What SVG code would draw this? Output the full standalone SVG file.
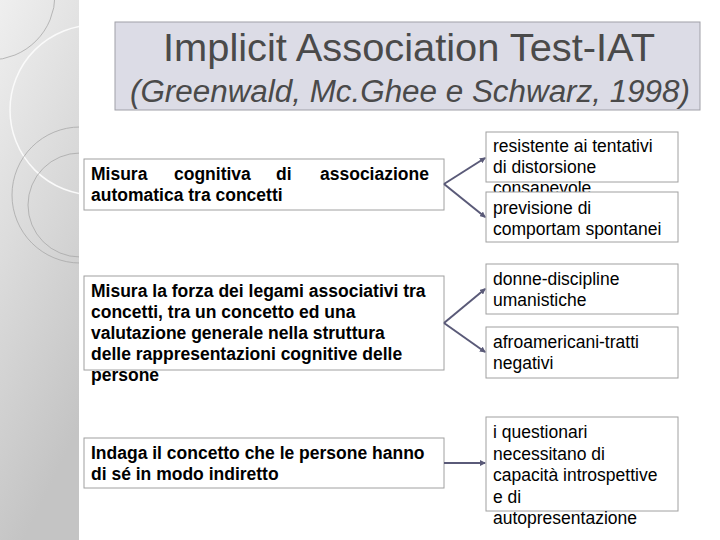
<svg xmlns="http://www.w3.org/2000/svg" width="720" height="540" viewBox="0 0 720 540">
<defs>
<linearGradient id="strip" x1="0" y1="0" x2="0.3" y2="1"><stop offset="0" stop-color="#efefef"/><stop offset="1" stop-color="#c4c4c4"/></linearGradient>
<clipPath id="sc"><rect x="0" y="0" width="79" height="540"/></clipPath>
<marker id="ah" markerWidth="6" markerHeight="6" refX="5" refY="3" orient="auto" markerUnits="userSpaceOnUse"><path d="M0,0 L6,3 L0,6 z" fill="#5a5a78"/></marker>
<style>
.box{fill:#fff;stroke:#a0a0a0;stroke-width:1}
.lt{font-family:"Liberation Sans",Arial,sans-serif;font-size:17.5px;font-weight:bold;fill:#000}
.rt{font-family:"Liberation Sans",Arial,sans-serif;font-size:17.5px;fill:#000}
.con{stroke:#5a5a78;stroke-width:2;fill:none;marker-end:url(#ah)}
</style>
</defs>
<rect width="720" height="540" fill="#fff"/>
<rect x="0" y="0" width="79" height="540" fill="url(#strip)"/>
<g fill="none" clip-path="url(#sc)">
<circle cx="95" cy="110" r="85" stroke="#fafafa" stroke-width="1.5"/>
<circle cx="80" cy="195" r="68" stroke="#a8a8a8" stroke-width="0.8"/>
<circle cx="80" cy="205" r="52" stroke="#a8a8a8" stroke-width="0.8"/>
<circle cx="-10" cy="-5" r="65" stroke="#a8a8a8" stroke-width="0.8"/>
</g>
<g id="title">
<rect x="115" y="22" width="585" height="88" fill="#dcdce6" stroke="#a0a0a8"/>
<text x="163" y="61" textLength="492" lengthAdjust="spacingAndGlyphs" font-family="'Liberation Sans',Arial,sans-serif" font-size="38" fill="#4a4a4a">Implicit Association Test-IAT</text>
<text x="130" y="102" textLength="560" lengthAdjust="spacingAndGlyphs" font-family="'Liberation Sans',Arial,sans-serif" font-size="31" font-style="italic" fill="#4a4a4a">(Greenwald, Mc.Ghee e Schwarz, 1998)</text>
</g>
<g id="l1"><rect class="box" x="84" y="159" width="360" height="51"/>
<text class="lt" y="180"><tspan x="91">Misura</tspan><tspan x="174">cognitiva</tspan><tspan x="276">di</tspan><tspan x="320">associazione</tspan><tspan x="91" dy="21">automatica tra concetti</tspan></text></g>
<g id="l2"><rect class="box" x="84" y="276" width="360" height="94"/>
<text class="lt" y="297"><tspan x="91">Misura la forza dei legami associativi tra</tspan><tspan x="91" dy="21">concetti, tra un concetto ed una</tspan><tspan x="91" dy="21">valutazione generale nella struttura</tspan><tspan x="91" dy="21">delle rappresentazioni cognitive delle</tspan><tspan x="91" dy="21">persone</tspan></text></g>
<g id="l3"><rect class="box" x="84" y="438" width="360" height="50"/>
<text class="lt" y="459"><tspan x="91">Indaga il concetto che le persone hanno</tspan><tspan x="91" dy="21">di sé in modo indiretto</tspan></text></g>
<g id="r1"><rect class="box" x="486" y="132" width="192" height="50"/>
<text class="rt" y="152"><tspan x="493">resistente ai tentativi</tspan><tspan x="493" dy="21">di distorsione</tspan><tspan x="493" dy="21">consapevole</tspan></text></g>
<g id="r2"><rect class="box" x="486" y="192" width="192" height="50"/>
<text class="rt" y="214"><tspan x="493">previsione di</tspan><tspan x="493" dy="21">comportam spontanei</tspan></text></g>
<g id="r3"><rect class="box" x="486" y="264" width="192" height="50"/>
<text class="rt" y="285"><tspan x="493">donne-discipline</tspan><tspan x="493" dy="21">umanistiche</tspan></text></g>
<g id="r4"><rect class="box" x="486" y="327" width="192" height="51"/>
<text class="rt" y="348"><tspan x="493">afroamericani-tratti</tspan><tspan x="493" dy="21">negativi</tspan></text></g>
<g id="r5"><rect class="box" x="486" y="417" width="192" height="94"/>
<text class="rt" y="438"><tspan x="493">i questionari</tspan><tspan x="493" dy="21.5">necessitano di</tspan><tspan x="493" dy="21.5">capacità introspettive</tspan><tspan x="493" dy="21.5">e di</tspan><tspan x="493" dy="21.5">autopresentazione</tspan></text></g>
<g id="connectors">
<path class="con" d="M444,184 L485,158"/>
<path class="con" d="M444,184 L485,217"/>
<path class="con" d="M444,323 L485,289"/>
<path class="con" d="M444,323 L485,352"/>
<path class="con" d="M444,463 L485,463"/>
</g>
</svg>
